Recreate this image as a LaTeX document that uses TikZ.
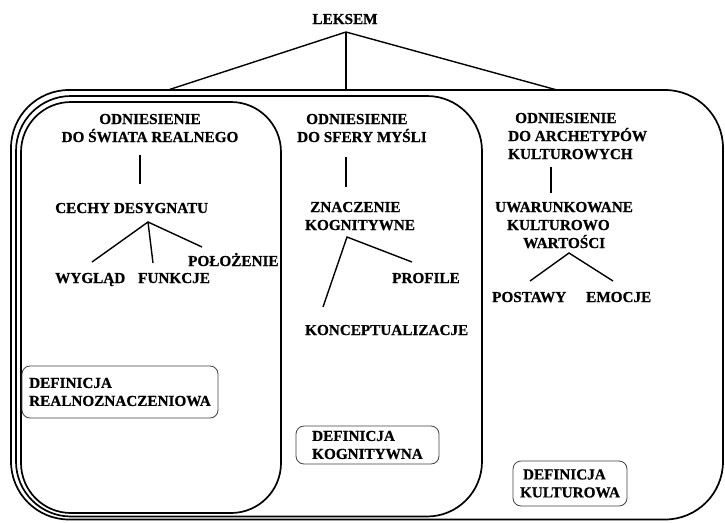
\documentclass[tikz,border=0pt]{standalone}
\usepackage{fontspec}
\setmainfont{Liberation Serif}[BoldFeatures={FakeBold=0.6}]
\begin{document}
\begin{tikzpicture}[x=1pt,y=-1pt,
  txt/.style={inner sep=0pt,anchor=base west,font=\fontsize{15.2}{18}\selectfont\bfseries,align=left},
  ctxt/.style={inner sep=0pt,anchor=base,font=\fontsize{15.2}{18}\selectfont\bfseries,align=center},
  bigbox/.style={draw=black,line width=1.7pt},
  conn/.style={draw=black,line width=1.4pt},
  defbox/.style={draw=black!75,line width=0.8pt,rounded corners=8pt,align=left,inner xsep=0pt,
    font=\fontsize{15.2}{18}\selectfont\bfseries}]
\useasboundingbox (0,0) rectangle (725,522);
% frames
\draw[bigbox,rounded corners=58pt] (11,90) rectangle (723,519.5);
\draw[bigbox,rounded corners=55pt] (16,96) rectangle (482,516.5);
\draw[bigbox,rounded corners=50pt] (21,102) rectangle (281,513);
% top
\node[ctxt] (leksem) at (345,24) {LEKSEM};
\coordinate (lkapex) at (346,32);
\coordinate (lkL) at (168,90);
\coordinate (lkM) at (346,90);
\coordinate (lkR) at (557,90);
\draw[conn] (lkL) -- (lkapex) -- (lkR);
\draw[conn] (lkapex) -- (lkM);
% left column
\node[ctxt] (odn1) at (150,142) {ODNIESIENIE\\DO ŚWIATA REALNEGO};
\coordinate (v1a) at (140,155);
\coordinate (v1b) at (140,184);
\draw[conn] (v1a) -- (v1b);
\node[txt] (cechy) at (55,213) {CECHY DESYGNATU};
\coordinate (ap1) at (148,222);
\node[txt] (wyg) at (55,283) {WYGLĄD};
\node[txt] (fun) at (138,283) {FUNKCJE};
\node[txt] (pol) at (188,266) {POŁOŻENIE};
\coordinate (e1) at (92,262);
\coordinate (e2) at (153,263);
\coordinate (e3) at (202,247);
\draw[conn] (e1) -- (ap1) -- (e3);
\draw[conn] (ap1) -- (e2);
\node[defbox,minimum width=196pt,minimum height=52pt] (def1) at (120,392) {DEFINICJA\\REALNOZNACZENIOWA};
% middle column
\node[txt] (odn2) at (297,142) {\hspace*{9pt}ODNIESIENIE\\DO SFERY MYŚLI};
\coordinate (v2a) at (346,157);
\coordinate (v2b) at (346,187);
\draw[conn] (v2a) -- (v2b);
\node[txt] (znacz) at (305,230) {\hspace*{5pt}ZNACZENIE\\KOGNITYWNE};
\coordinate (ap2) at (347,237);
\node[txt] (prof) at (392,283) {PROFILE};
\node[txt] (konc) at (305,335) {KONCEPTUALIZACJE};
\coordinate (e4) at (412,262);
\coordinate (e5) at (323,307);
\draw[conn] (e5) -- (ap2) -- (e4);
\node[defbox,minimum width=143pt,minimum height=38pt] (def2) at (367.5,445) {DEFINICJA\\KOGNITYWNA};
% right column
\node[txt] (odn3) at (508,159) {\hspace*{7pt}ODNIESIENIE\\DO ARCHETYPÓW\\KULTUROWYCH};
\coordinate (v3a) at (551,167);
\coordinate (v3b) at (551,193);
\draw[conn] (v3a) -- (v3b);
\node[txt] (uwar) at (495,248) {UWARUNKOWANE\\\hspace*{12pt}KULTUROWO\\\hspace*{28pt}WARTOŚCI};
\coordinate (ap3) at (569,253);
\node[txt] (post) at (492,302) {POSTAWY};
\node[txt] (emoc) at (586,302) {EMOCJE};
\coordinate (e6) at (530,281);
\coordinate (e7) at (613,281);
\draw[conn] (e6) -- (ap3) -- (e7);
\node[defbox,minimum width=114pt,minimum height=45pt] (def3) at (570,483.5) {\hspace*{3pt}DEFINICJA\\KULTUROWA};
\end{tikzpicture}
\end{document}
